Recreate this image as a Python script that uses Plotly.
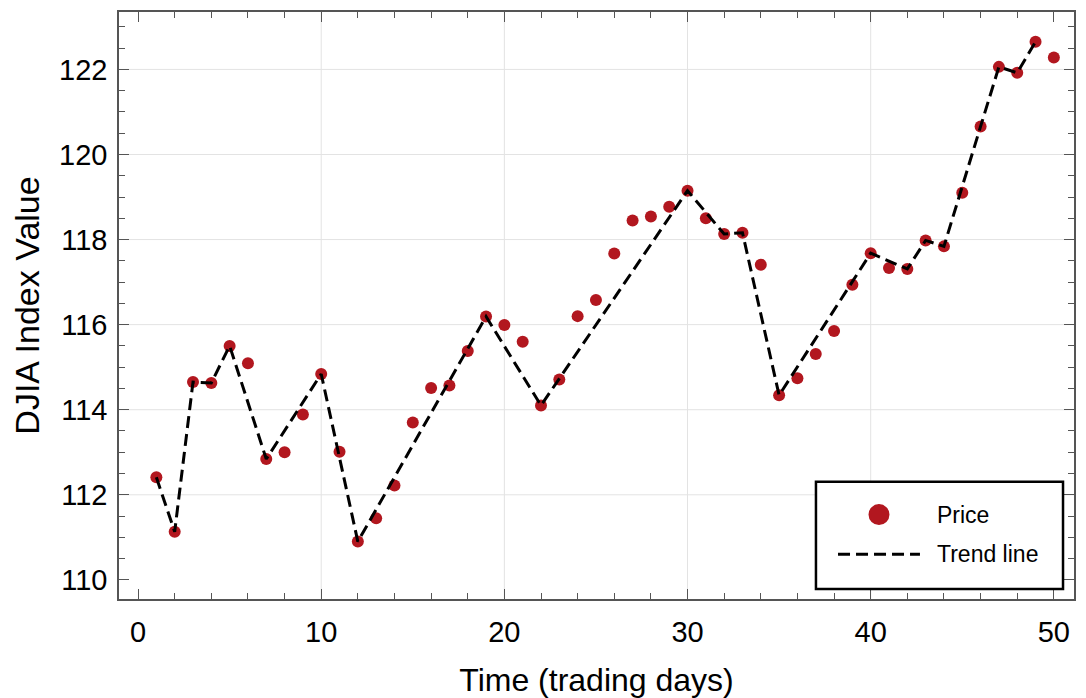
import plotly.graph_objects as go

# ---- data ----
days = list(range(1, 51))
price = [112.41, 111.13, 114.65, 114.63, 115.50, 115.09, 112.84, 113.00, 113.89, 114.84,
         113.01, 110.90, 111.45, 112.22, 113.70, 114.51, 114.57, 115.38, 116.19, 115.99,
         115.60, 114.10, 114.71, 116.20, 116.58, 117.67, 118.45, 118.54, 118.77, 119.15,
         118.50, 118.13, 118.16, 117.41, 114.34, 114.74, 115.31, 115.85, 116.94, 117.68,
         117.33, 117.31, 117.98, 117.84, 119.10, 120.66, 122.06, 121.92, 122.65, 122.28]

trend_days = [1, 2, 3, 4, 5, 7, 10, 12, 19, 22, 30, 32, 33, 35, 40, 42, 43, 44, 46, 47, 48, 49]
trend_vals = [price[d - 1] for d in trend_days]

x_ticks = [0, 10, 20, 30, 40, 50]
y_ticks = [110, 112, 114, 116, 118, 120, 122]
x_grid = [10, 20, 30, 40]
y_grid = [112, 114, 116, 118, 120, 122]
legend_labels = ["Price", "Trend line"]

RED = "#b2171f"
FONT = "Liberation Sans, Arial, Helvetica, sans-serif"
DASH = "12px,6px"
GRID = "#e3e3e3"

fig = go.Figure()
fig.add_trace(go.Scatter(
    x=days, y=price, mode="markers", name=legend_labels[0], showlegend=False,
    marker=dict(color=RED, size=12, line=dict(width=0)),
))
fig.add_trace(go.Scatter(
    x=trend_days, y=trend_vals, mode="lines", name=legend_labels[1], showlegend=False,
    line=dict(color="black", width=3, dash=DASH),
))

axis_common = dict(
    showline=True, linecolor="#555555", linewidth=1.5, mirror="ticks",
    ticks="inside", ticklen=10, tickwidth=1.2, tickcolor="#555555",
    showgrid=False, zeroline=False,
    tickfont=dict(family=FONT, size=29, color="black"),
)

fig.update_xaxes(
    range=[-1.04, 51.1], tickvals=x_ticks, ticklabelstandoff=6,
    minor=dict(ticks="inside", dtick=2, tick0=0, ticklen=6, tickcolor="#555555", showgrid=False),
    title=dict(text="Time (trading days)", font=dict(family=FONT, size=32, color="black"), standoff=26),
    **axis_common,
)
fig.update_yaxes(
    range=[109.55, 123.35], tickvals=y_ticks, ticklabelstandoff=4,
    minor=dict(ticks="inside", dtick=0.5, tick0=110, ticklen=6, tickcolor="#555555", showgrid=False),
    title=dict(text="DJIA Index Value", font=dict(family=FONT, size=34, color="black"), standoff=16),
    **axis_common,
)

# ---- grid lines at the interior major ticks (through the axis scales) ----
for gx in x_grid:
    fig.add_shape(type="line", xref="x", yref="paper", x0=gx, x1=gx, y0=0, y1=1,
                  line=dict(color=GRID, width=1), layer="below")
for gy in y_grid:
    fig.add_shape(type="line", xref="paper", yref="y", x0=0, x1=1, y0=gy, y1=gy,
                  line=dict(color=GRID, width=1), layer="below")

# ---- legend box (drawn in plot-area paper coordinates) ----
fig.add_shape(type="rect", xref="paper", yref="paper",
              x0=0.7298, x1=0.9885, y0=0.0169, y1=0.1997,
              line=dict(color="black", width=2.5), fillcolor="white", layer="above")
fig.add_shape(type="circle", xref="paper", yref="paper",
              xsizemode="pixel", ysizemode="pixel", xanchor=0.7958, yanchor=0.1438,
              x0=-10.5, x1=10.5, y0=-10.5, y1=10.5,
              line=dict(width=0), fillcolor=RED, layer="above")
fig.add_shape(type="line", xref="paper", yref="paper",
              x0=0.7529, x1=0.8387, y0=0.0761, y1=0.0761,
              line=dict(color="black", width=3, dash=DASH), layer="above")
for label, ly in zip(legend_labels, [0.1438, 0.0761]):
    fig.add_annotation(text=label, xref="paper", yref="paper", x=0.8545, y=ly,
                       xanchor="left", yanchor="middle", showarrow=False,
                       font=dict(family=FONT, size=23, color="black"))

fig.update_layout(
    width=1078, height=690,
    margin=dict(l=111, r=12, t=2, b=97),
    plot_bgcolor="white", paper_bgcolor="white",
    showlegend=False,
)

fig.write_html("out.html")
